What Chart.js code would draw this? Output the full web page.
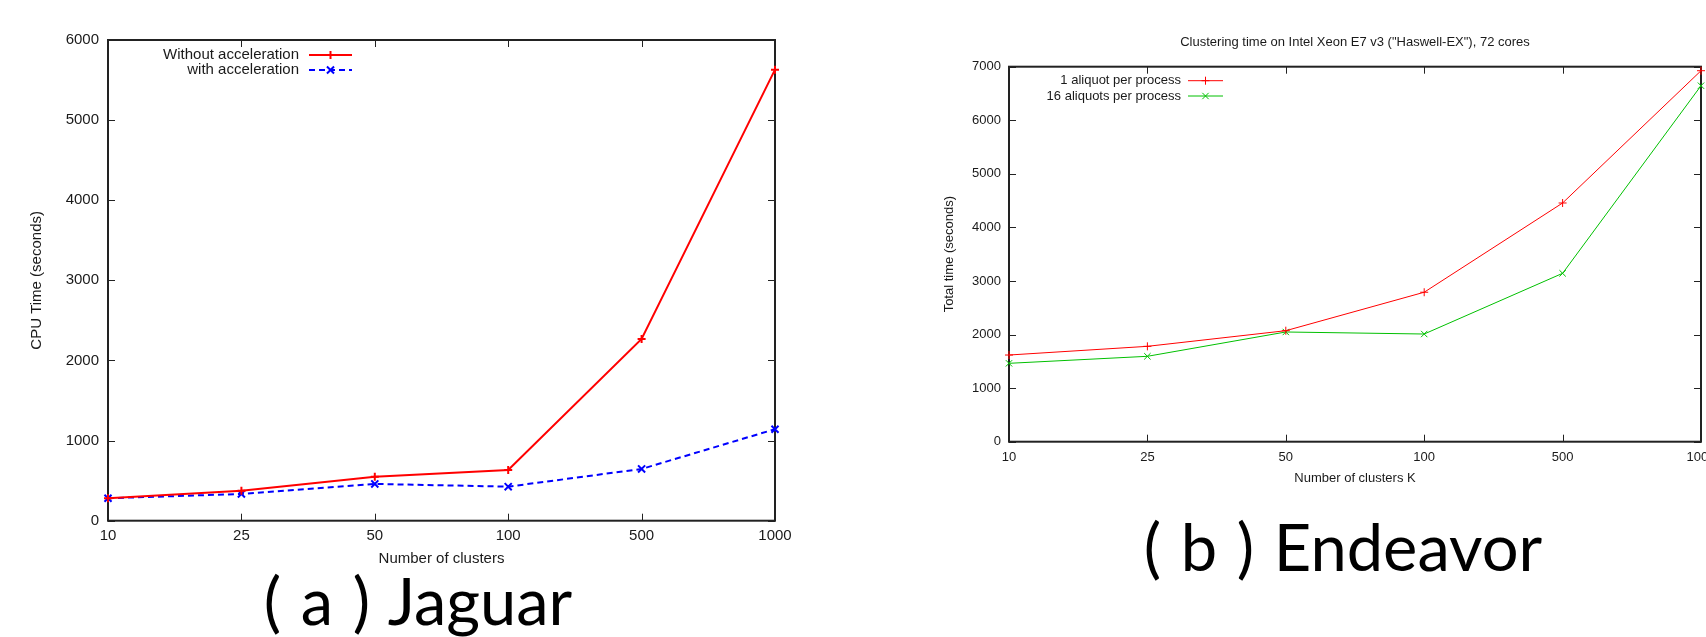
<!DOCTYPE html>
<html>
<head>
<meta charset="utf-8">
<script src="https://cdn.jsdelivr.net/npm/chart.js@4.4.1/dist/chart.umd.min.js"></script>
<style>
  html, body { margin: 0; padding: 0; background: #fff; overflow: hidden; width: 1706px; height: 637px; }
  canvas { position: absolute; }
  #jaguar { left: 0; top: 0; }
  #endeavor { left: 860px; top: 0; }
  .caption {
    position: absolute; width: 500px; text-align: center;
    font-family: "Lato"; font-size: 65px; line-height: 65px; word-spacing: 3px;
    white-space: pre; color: #000;
  }
  #capA { left: 168px; top: 568px; }
  #capB { left: 1093px; top: 514px; }
</style>
</head>
<body>
<canvas id="jaguar" width="810" height="580"></canvas>
<canvas id="endeavor" width="870" height="500"></canvas>
<div class="caption" id="capA">( a ) Jaguar</div>
<div class="caption" id="capB">( b ) Endeavor</div>
<script>
// ----------------- Data -----------------
const clusterLabels = ['10', '25', '50', '100', '500', '1000'];

// (a) Jaguar, CPU time in seconds
const jaguarWithout = [280, 375, 550, 634, 2268, 5630];
const jaguarWith = [280, 334, 459, 425, 646, 1142];

// (b) Endeavor, total time in seconds
const endeavorOne = [1618, 1780, 2072, 2790, 4456, 6925];
const endeavorSixteen = [1463, 1594, 2048, 2010, 3143, 6645];

const textColor = '#1a1a1a';

// ----------------- gnuplot-style frame, inward ticks, legend -----------------
const gnuplotFrame = {
  id: 'gnuplotFrame',
  beforeDatasetsDraw(chart, args, opts) {
    const { ctx, chartArea: a, scales: { x, y } } = chart;
    ctx.save();
    ctx.strokeStyle = '#222';
    ctx.lineWidth = 1;
    ctx.beginPath();
    x.ticks.forEach((t, i) => {
      const px = Math.round(x.getPixelForTick(i)) + 0.5;
      ctx.moveTo(px, a.bottom); ctx.lineTo(px, a.bottom - opts.tick);
      ctx.moveTo(px, a.top); ctx.lineTo(px, a.top + opts.tick);
    });
    y.ticks.forEach((t, i) => {
      const py = Math.round(y.getPixelForTick(i)) + 0.5;
      ctx.moveTo(a.left, py); ctx.lineTo(a.left + opts.tick, py);
      ctx.moveTo(a.right, py); ctx.lineTo(a.right - opts.tick, py);
    });
    ctx.stroke();
    ctx.lineWidth = 2;
    ctx.strokeRect(a.left, a.top, a.right - a.left, a.bottom - a.top);
    ctx.restore();
  },
  afterDraw(chart, args, opts) {
    const { ctx, chartArea: a } = chart;
    const lg = opts.legend;
    ctx.save();
    ctx.font = lg.font;
    ctx.textAlign = 'right';
    ctx.textBaseline = 'middle';
    chart.data.datasets.forEach((ds, i) => {
      const yy = a.top + lg.rows[i];
      ctx.fillStyle = textColor;
      ctx.fillText(ds.label, a.left + lg.textRight, yy);
      ctx.strokeStyle = ds.borderColor;
      ctx.lineWidth = ds.borderWidth;
      ctx.setLineDash(ds.borderDash || []);
      ctx.beginPath();
      ctx.moveTo(a.left + lg.from, yy);
      ctx.lineTo(a.left + lg.to, yy);
      ctx.stroke();
      ctx.setLineDash([]);
      ctx.lineWidth = ds.pointBorderWidth;
      Chart.helpers.drawPoint(ctx, {
        pointStyle: ds.pointStyle, radius: ds.pointRadius,
        borderWidth: ds.pointBorderWidth, rotation: 0
      }, a.left + (lg.from + lg.to) / 2, yy);
    });
    ctx.restore();
  }
};

function makeScales(o) {
  return {
    x: {
      type: 'category',
      offset: false,
      grid: { display: false, drawTicks: false },
      border: { display: false },
      ticks: { color: textColor, font: { family: 'Liberation Sans', size: o.font }, padding: o.xPad, maxRotation: 0, autoSkip: false },
      title: { display: true, text: o.xTitle, color: textColor, font: { family: 'Liberation Sans', size: o.font }, padding: { top: 0, bottom: o.xTitlePad } },
      afterFit: s => { s.height = o.xHeight; }
    },
    y: {
      min: 0, max: o.yMax,
      grid: { display: false, drawTicks: false },
      border: { display: false },
      ticks: { stepSize: 1000, color: textColor, font: { family: 'Liberation Sans', size: o.font }, padding: o.yPad, callback: v => v },
      title: { display: true, text: o.yTitle, color: textColor, font: { family: 'Liberation Sans', size: o.font }, padding: { top: o.yTitlePad, bottom: 0 } },
      afterFit: s => { s.width = o.yWidth; }
    }
  };
}

// ----------------- (a) Jaguar -----------------
new Chart(document.getElementById('jaguar'), {
  type: 'line',
  data: {
    labels: clusterLabels,
    datasets: [
      {
        label: 'Without acceleration', data: jaguarWithout,
        borderColor: '#ff0000', backgroundColor: '#ff0000', borderWidth: 2,
        pointStyle: 'cross', pointRadius: 4, pointBorderWidth: 2, tension: 0, clip: false
      },
      {
        label: 'with acceleration', data: jaguarWith,
        borderColor: '#0000ff', backgroundColor: '#0000ff', borderWidth: 2, borderDash: [6, 4],
        pointStyle: 'crossRot', pointRadius: 5, pointBorderWidth: 2, tension: 0, clip: false
      }
    ]
  },
  options: {
    responsive: false, animation: false, devicePixelRatio: 1,
    layout: { padding: { left: 0, top: 40, right: 35, bottom: 0 } },
    plugins: {
      legend: { display: false }, tooltip: { enabled: false },
      gnuplotFrame: {
        tick: 7,
        legend: { font: '15px "Liberation Sans"', textRight: 191, from: 201, to: 244, rows: [15, 30] }
      }
    },
    scales: makeScales({
      font: 15, xPad: 6, xTitle: 'Number of clusters', xTitlePad: 12, xHeight: 59.3,
      yMax: 6000, yPad: 9, yTitle: 'CPU Time (seconds)', yTitlePad: 28, yWidth: 108
    })
  },
  plugins: [gnuplotFrame]
});

// ----------------- (b) Endeavor -----------------
new Chart(document.getElementById('endeavor'), {
  type: 'line',
  data: {
    labels: clusterLabels,
    datasets: [
      {
        label: '1 aliquot per process', data: endeavorOne,
        borderColor: '#ff0000', backgroundColor: '#ff0000', borderWidth: 1,
        pointStyle: 'cross', pointRadius: 4, pointBorderWidth: 1, tension: 0, clip: false
      },
      {
        label: '16 aliquots per process', data: endeavorSixteen,
        borderColor: '#00c000', backgroundColor: '#00c000', borderWidth: 1,
        pointStyle: 'crossRot', pointRadius: 4.5, pointBorderWidth: 1, tension: 0, clip: false
      }
    ]
  },
  options: {
    responsive: false, animation: false, devicePixelRatio: 1,
    layout: { padding: { left: 0, top: 0, right: 29, bottom: 0 } },
    plugins: {
      legend: { display: false }, tooltip: { enabled: false },
      title: {
        display: true, fullSize: false,
        text: 'Clustering time on Intel Xeon E7 v3 ("Haswell-EX"), 72 cores',
        color: textColor, font: { family: 'Liberation Sans', size: 13, weight: 'normal' },
        padding: { top: 35, bottom: 16.1 }
      },
      gnuplotFrame: {
        tick: 7,
        legend: { font: '13px "Liberation Sans"', textRight: 172, from: 179, to: 214, rows: [14, 29.3] }
      }
    },
    scales: makeScales({
      font: 13, xPad: 8, xTitle: 'Number of clusters K', xTitlePad: 14, xHeight: 58.3,
      yMax: 7000, yPad: 8, yTitle: 'Total time (seconds)', yTitlePad: 82, yWidth: 149
    })
  },
  plugins: [gnuplotFrame]
});
</script>
</body>
</html>
